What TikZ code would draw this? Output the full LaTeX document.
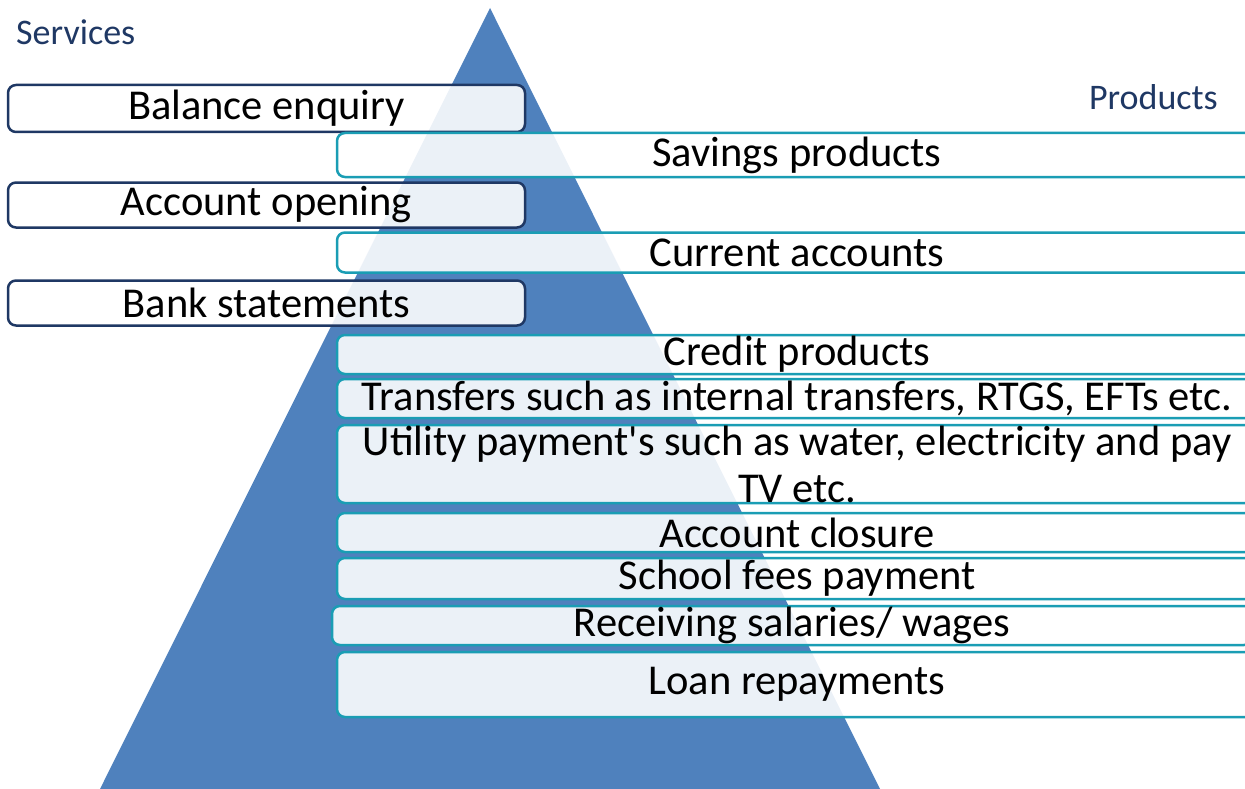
\documentclass[tikz,border=0pt]{standalone}
\usepackage{fontspec}
\setmainfont{Carlito}
\definecolor{triblue}{HTML}{4F81BD}
\definecolor{navy}{HTML}{1F3864}
\definecolor{teal}{HTML}{1A9DB4}
\definecolor{hdr}{HTML}{1F3864}
\tikzset{
  box/.style={rectangle, rounded corners=8pt, line width=2.5pt, fill=white, fill opacity=0.89, text opacity=1, draw opacity=1, inner sep=0pt, font=\fontsize{42.5}{47}\selectfont, text=black},
  svc/.style={box, draw=navy, minimum width=517pt},
  prd/.style={box, draw=teal, minimum width=920pt},
  hdrtext/.style={font=\fontsize{36}{40}\selectfont, text=hdr, inner sep=0pt}
}
\begin{document}
\begin{tikzpicture}[x=1pt,y=-1pt]
\useasboundingbox (0,0) rectangle (1245,789);
\clip (0,0) rectangle (1245,789);
% pyramid
\fill[triblue] (490,8) -- (880,789) -- (100,789) -- cycle;
% headers
\node[hdrtext, anchor=west] (services) at (16,32) {Services};
\node[hdrtext, anchor=east] (products) at (1218,97) {Products};
% service boxes
\node[svc, minimum height=47pt] (s1) at (266.5,108.5) {Balance enquiry};
\node[svc, minimum height=45pt] (s2) at (266.5,205) {Account opening};
\node[svc, minimum height=45pt] (s3) at (266.5,303) {Bank statements};
% product boxes
\node[prd, minimum height=44pt] (p1) at (797,155) {Savings products};
\node[prd, minimum height=40pt] (p2) at (797,252.5) {Current accounts};
\node[prd, minimum height=39pt] (p3) at (797,354.5) {Credit products};
\node[prd, minimum height=39pt] (p4) at (797,398.5) {Transfers such as internal transfers, RTGS, EFTs etc.};
\node[prd, minimum height=78pt, align=center] (p5) at (797,464) {Utility payment\textquotesingle s such as water, electricity and pay\\TV etc.};
\node[prd, minimum height=39pt] (p6) at (797,532.5) {Account closure};
\node[prd, minimum height=41pt] (p7) at (797,578.5) {School fees payment};
\node[prd, minimum height=39pt, minimum width=920pt] (p8) at (792,625.5) {Receiving salaries/ wages};
\node[prd, minimum height=65pt] (p9) at (797,684.5) {Loan repayments};
\end{tikzpicture}
\end{document}
